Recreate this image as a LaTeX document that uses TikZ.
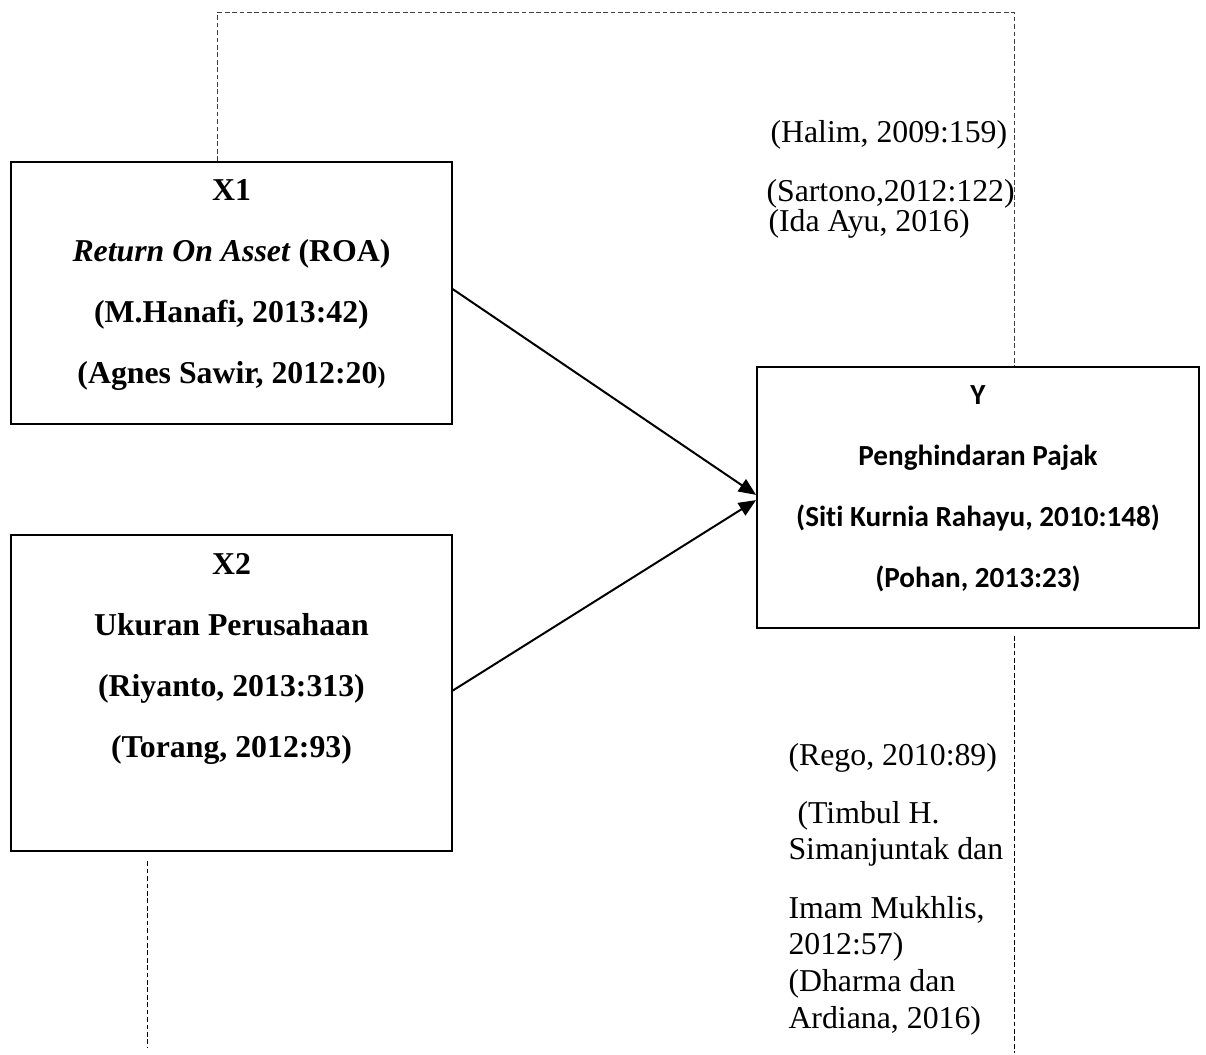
\documentclass[tikz,border=0pt]{standalone}
\usepackage{fontspec}
\setmainfont{Liberation Serif}
\newfontfamily\calibri[Ligatures=NoCommon]{Carlito}
\usetikzlibrary{arrows.meta,positioning}

\begin{document}
\begin{tikzpicture}[
box/.style={draw,line width=0.75pt,minimum width=5.84cm,inner sep=0pt},
boxtext/.style={font=\fontsize{12}{23}\selectfont\bfseries,align=center,inner sep=0pt},
cite/.style={font=\fontsize{12}{13.8}\selectfont,align=left,inner sep=0pt},
flow/.style={-{Triangle[length=6.5pt,width=5.5pt]},line width=0.75pt},
guide/.style={dash pattern=on 1.8pt off 1pt,line width=0.4pt}]
\useasboundingbox (0,0) rectangle (15.995,-13.979);
% variable boxes
\node[box,minimum height=3.475cm] (x1) at (3.07,-3.886) {};
\node[box,minimum height=4.19cm,below=1.45cm of x1] (x2) {};
\node[box,minimum height=3.462cm,minimum width=5.862cm] (y) at (12.971,-6.598) {};
\node[boxtext,below=0.24cm of x1.north] (x1text)
{X1\\\textit{Return On Asset} (ROA)\\(M.Hanafi, 2013:42)\\(Agnes Sawir, 2012:20{\fontsize{9}{10}\selectfont)}};
\node[boxtext,below=0.245cm of x2.north] (x2text)
{X2\\Ukuran Perusahaan\\(Riyanto, 2013:313)\\(Torang, 2012:93)};
\node[boxtext,font=\calibri\fontsize{11}{23}\selectfont\bfseries,below=0.25cm of y.north] (ytext)
{Y\\Penghindaran Pajak\\(Siti Kurnia Rahayu, 2010:148)\\(Pohan, 2013:23)};
\draw[flow] ([yshift=1.5pt]x1.east)--([yshift=1pt]y.west);
\draw[flow] ([yshift=1pt]x2.east)--([yshift=-1pt]y.west);
% dashed guide lines
\coordinate (tl) at (2.89,-0.16);
\coordinate (tr) at (13.45,-0.16);
\coordinate (bl) at (1.96,-13.90);
\coordinate (br) at (13.46,-13.97);
\draw[guide,black!75] (x1.north -| tl)--(tl)--(tr)--(y.north -| tr);
\draw[guide] ([yshift=-0.12cm]x2.south -| bl)--(bl);
\draw[guide] ([yshift=-0.09cm]y.south -| br)--(br);
% references
\node[cite,anchor=base west] (halim) at (10.212,-1.893) {(Halim, 2009:159)};
\node[cite,anchor=base west] (sartono) at (10.159,-2.675) {(Sartono,2012:122)};
\node[cite,anchor=base west] (idaayu) at (10.186,-3.064) {(Ida Ayu, 2016)};
\node[cite,anchor=base west] (rego) at (10.451,-10.155) {(Rego, 2010:89)};
\node[cite,anchor=north west] (timbul) at (10.451,-10.62)
{\hspace*{3.4pt}(Timbul H.\\Simanjuntak dan};
\node[cite,anchor=north west] (imam) at (10.451,-11.88)
{Imam Mukhlis,\\2012:57)\\(Dharma dan\\Ardiana, 2016)};
\end{tikzpicture}
\end{document}
